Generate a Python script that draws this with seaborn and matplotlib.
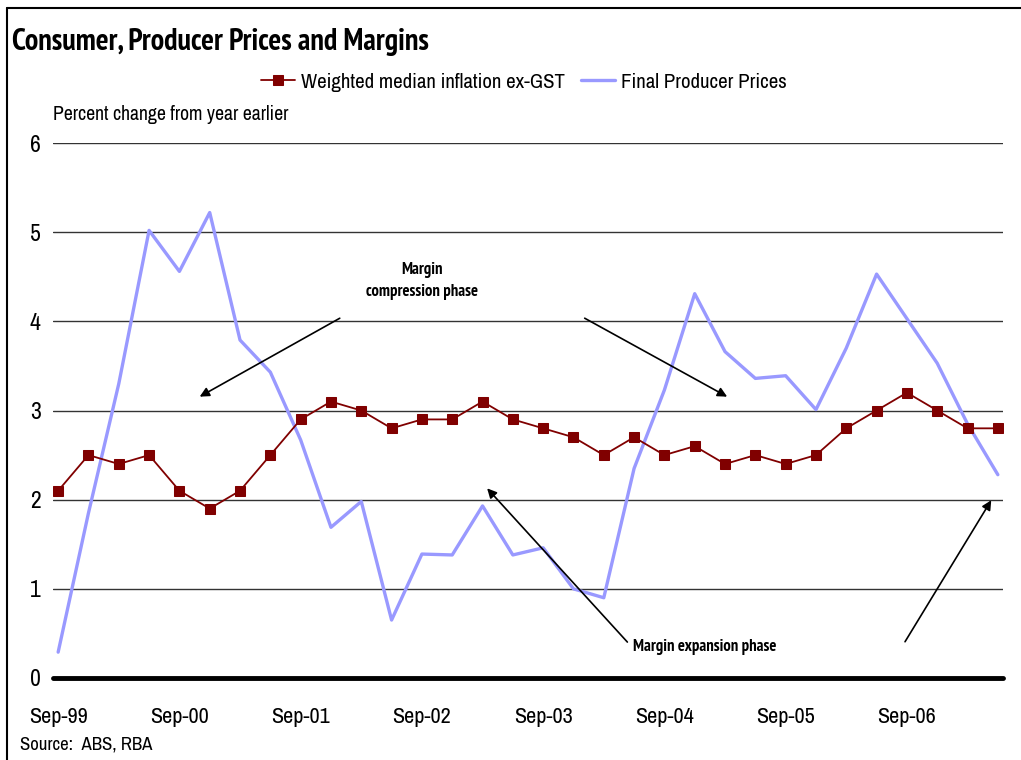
import numpy as np
import pandas as pd
import seaborn as sns
import matplotlib.pyplot as plt
from matplotlib import font_manager

# quarterly, Sep-99 to Jun-07
quarters = ["Sep-99", "Dec-99", "Mar-00", "Jun-00", "Sep-00", "Dec-00", "Mar-01", "Jun-01",
            "Sep-01", "Dec-01", "Mar-02", "Jun-02", "Sep-02", "Dec-02", "Mar-03", "Jun-03",
            "Sep-03", "Dec-03", "Mar-04", "Jun-04", "Sep-04", "Dec-04", "Mar-05", "Jun-05",
            "Sep-05", "Dec-05", "Mar-06", "Jun-06", "Sep-06", "Dec-06", "Mar-07", "Jun-07"]
weighted_median = [2.1, 2.5, 2.4, 2.5, 2.1, 1.9, 2.1, 2.5,
                   2.9, 3.1, 3.0, 2.8, 2.9, 2.9, 3.1, 2.9,
                   2.8, 2.7, 2.5, 2.7, 2.5, 2.6, 2.4, 2.5,
                   2.4, 2.5, 2.8, 3.0, 3.2, 3.0, 2.8, 2.8]
producer_prices = [0.29, 1.85, 3.3, 5.02, 4.56, 5.22, 3.79, 3.43,
                   2.67, 1.69, 1.98, 0.65, 1.39, 1.38, 1.93, 1.38,
                   1.46, 1.0, 0.9, 2.35, 3.23, 4.31, 3.66, 3.36,
                   3.39, 3.01, 3.7, 4.53, 4.03, 3.53, 2.85, 2.28]
tick_labels = ["Sep-99", "Sep-00", "Sep-01", "Sep-02", "Sep-03", "Sep-04", "Sep-05", "Sep-06"]

sns.set_style("white")
fonts = font_manager.fontManager.ttflist
names = {f.name for f in fonts}
bold_names = {f.name for f in fonts if f.weight in (700, "bold")}
wanted = ["Liberation Sans Narrow", "Archivo Narrow", "PT Sans Narrow", "Roboto Condensed",
          "Open Sans Condensed", "Sofia Sans Condensed", "Liberation Sans"]
narrow = [n for n in wanted if n in names][0]
narrow_bold = [n for n in wanted if n in bold_names][0]
plt.rcParams["font.family"] = [narrow, "DejaVu Sans"]
plt.rcParams["text.color"] = "black"
plt.rcParams["xtick.color"] = "black"
plt.rcParams["ytick.color"] = "black"
bold_family = [narrow_bold, "DejaVu Sans"]

df = pd.DataFrame({"q": np.arange(len(quarters)), "wm": weighted_median, "fpp": producer_prices})

fig = plt.figure(figsize=(10.21, 7.6), dpi=100)
ax = fig.add_axes([53 / 1021, 1 - 678 / 760, 950 / 1021, 535 / 760])

sns.lineplot(data=df, x="q", y="fpp", ax=ax, color="#9999ff", linewidth=2.4,
             label="Final Producer Prices", zorder=3)
sns.lineplot(data=df, x="q", y="wm", ax=ax, color="#800000", linewidth=1.3,
             marker="s", markersize=7.5, markeredgecolor="#800000",
             label="Weighted median inflation ex-GST", zorder=4)

ax.set_xlim(-0.17, 31.17)
ax.set_ylim(0, 6)
ax.set_yticks(range(0, 7))
ax.set_yticklabels([str(v) for v in range(0, 7)], fontsize=17)
ax.set_xticks(range(0, 32, 4))
ax.set_xticklabels(tick_labels, fontsize=16)
ax.set_xlabel("")
ax.set_ylabel("")
for v in range(1, 7):
    ax.axhline(v, color="#333333", linewidth=1, zorder=1)
ax.axhline(0, color="black", linewidth=3.5, zorder=5, clip_on=False)
for s in ["top", "right", "left", "bottom"]:
    ax.spines[s].set_visible(False)
ax.tick_params(axis="x", direction="out", length=8, width=3, color="black", pad=13)
ax.tick_params(axis="y", length=0, pad=9)

# legend, red first
h, l = ax.get_legend_handles_labels()
ax.legend(h[::-1], l[::-1], loc="center", bbox_to_anchor=(524 / 1021, 1 - 82 / 760),
          bbox_transform=fig.transFigure, ncol=2, frameon=False, fontsize=15,
          handlelength=1.6, handletextpad=0.3, columnspacing=0.8)

# annotations
ax.text(12.0, 4.45, "Margin\ncompression phase", ha="center", va="center",
        fontsize=12, fontweight="bold", family=bold_family, linespacing=1.5)
ax.text(18.98, 0.35, "Margin expansion phase", ha="left", va="center",
        fontsize=12, fontweight="bold", family=bold_family)
arrows = [((9.37, 4.05), (4.59, 3.14)), ((17.29, 4.05), (22.15, 3.14)),
          ((18.84, 0.38), (14.09, 2.15)), ((27.89, 0.38), (30.83, 2.02))]
for start, end in arrows:
    ax.annotate("", xy=end, xytext=start,
                arrowprops=dict(arrowstyle="-|>", color="black", lw=1.2, mutation_scale=14),
                zorder=6)

fig.text(12 / 1021, 1 - 42 / 760, "Consumer, Producer Prices and Margins",
         fontsize=21.7, fontweight="bold", family=bold_family, va="center", ha="left")
fig.text(53 / 1021, 1 - 114 / 760, "Percent change from year earlier", fontsize=14.2,
         va="center", ha="left")
fig.text(20 / 1021, 1 - 745 / 760, "Source:  ABS, RBA", fontsize=13.5, va="center", ha="left")

# frame round the chart
fig.add_artist(plt.Line2D([7 / 1021, 7 / 1021], [0, 1 - 8 / 760], color="black", lw=1.5))
fig.add_artist(plt.Line2D([7 / 1021, 1], [1 - 8 / 760, 1 - 8 / 760], color="black", lw=1.5))

fig.savefig("out.png", dpi=100)
